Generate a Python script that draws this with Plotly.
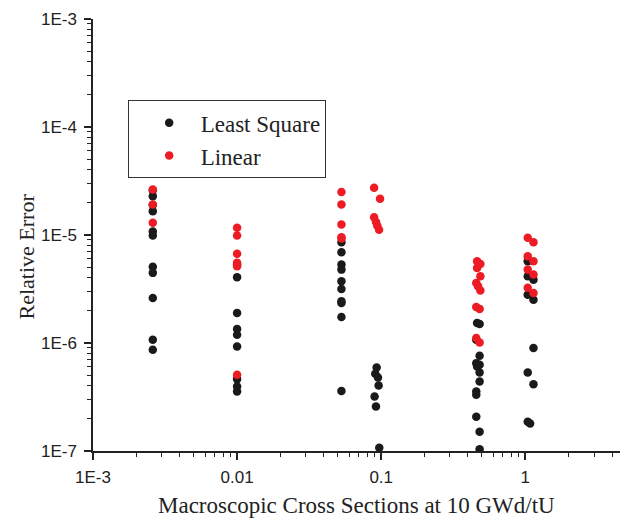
import plotly.graph_objects as go

# Least Square (black)
ls_x = [0.0026]*11 + [0.01]*9 + [0.053]*10 + [0.093, 0.091, 0.095, 0.096, 0.090, 0.092, 0.097] \
       + [0.463, 0.482, 0.457, 0.482, 0.457, 0.482, 0.463, 0.482, 0.482, 0.457, 0.457, 0.457, 0.482, 0.482] \
       + [1.04, 1.04, 1.14, 1.04, 1.14, 1.14, 1.04, 1.14, 1.04, 1.08]
ls_y = [2.29e-5, 1.66e-5, 1.08e-5, 9.9e-6, 5.07e-6, 4.46e-6, 2.61e-6, 1.07e-6, 8.66e-7, 2.6e-5, 1.9e-5,
        5.32e-6, 4.06e-6, 1.90e-6, 1.35e-6, 1.19e-6, 9.3e-7, 4.63e-7, 3.95e-7, 3.55e-7,
        8.57e-6, 6.92e-6, 5.32e-6, 4.78e-6, 3.73e-6, 3.17e-6, 2.43e-6, 2.35e-6, 1.74e-6, 3.60e-7,
        5.93e-7, 5.18e-7, 4.79e-7, 4.04e-7, 3.19e-7, 2.58e-7, 1.07e-7,
        1.53e-6, 1.50e-6, 1.07e-6, 7.62e-7, 6.51e-7, 6.28e-7, 6.06e-7, 5.33e-7, 4.40e-7, 3.55e-7, 3.31e-7, 2.08e-7, 1.51e-7, 1.04e-7,
        5.71e-6, 4.15e-6, 3.86e-6, 2.80e-6, 2.52e-6, 8.98e-7, 5.33e-7, 4.16e-7, 1.87e-7, 1.80e-7]

# Linear (red)
lin_x = [0.0026]*3 + [0.01]*6 + [0.053]*5 + [0.0893, 0.0982, 0.0893, 0.0921, 0.094, 0.0967] \
        + [0.463, 0.488, 0.463, 0.488, 0.457, 0.470, 0.488, 0.457, 0.482, 0.457, 0.482] \
        + [1.04, 1.14, 1.04, 1.14, 1.04, 1.14, 1.04, 1.14]
lin_y = [2.64e-5, 1.92e-5, 1.30e-5,
         1.17e-5, 9.9e-6, 6.69e-6, 5.52e-6, 5.14e-6, 5.08e-7,
         2.50e-5, 1.92e-5, 1.25e-5, 9.55e-6, 9.29e-6,
         2.74e-5, 2.17e-5, 1.46e-5, 1.32e-5, 1.22e-5, 1.12e-5,
         5.71e-6, 5.40e-6, 4.96e-6, 4.15e-6, 3.60e-6, 3.35e-6, 3.07e-6, 2.15e-6, 2.07e-6, 1.11e-6, 1.01e-6,
         9.42e-6, 8.57e-6, 6.36e-6, 5.71e-6, 4.78e-6, 4.30e-6, 3.24e-6, 2.91e-6]

x_ticks = [0.001, 0.01, 0.1, 1]
x_tick_text = ["1E-3", "0.01", "0.1", "1"]
y_ticks = [1e-7, 1e-6, 1e-5, 1e-4, 1e-3]
y_tick_text = ["1E-7", "1E-6", "1E-5", "1E-4", "1E-3"]

NB = "\u00a0"
fig = go.Figure()
fig.add_trace(go.Scatter(x=ls_x, y=ls_y, mode="markers", name=NB*2 + "Least Square",
                         marker=dict(color="#1a1a1a", size=8.5, line=dict(width=0))))
fig.add_trace(go.Scatter(x=lin_x, y=lin_y, mode="markers", name=NB*2 + "Linear",
                         marker=dict(color="#ED1C24", size=8.5, line=dict(width=0))))

x_minor = [m * 10**e for e in range(-3, 1) for m in range(2, 10)]
y_minor = [m * 10**e for e in range(-7, -3) for m in range(2, 10)]

# The page body has an 8px default margin; size the figure to compensate.
fig.update_layout(
    width=620, height=511,
    margin=dict(l=85, r=2, t=11, b=68),
    paper_bgcolor="white", plot_bgcolor="white",
    showlegend=True,
    legend=dict(x=0.066, y=0.812, xanchor="left", yanchor="top",
                bordercolor="#333", borderwidth=1, bgcolor="white",
                font=dict(family="Liberation Serif", size=23, color="#222"),
                indentation=20, tracegroupgap=0),
    xaxis=dict(type="log", range=[-3, 0.699], tickmode="array", tickvals=x_ticks, ticktext=x_tick_text,
               showgrid=False, zeroline=False, showline=True, linecolor="#222", linewidth=1.5,
               ticks="outside", ticklen=7, tickwidth=1.5, tickcolor="#222", ticklabelstandoff=3,
               minor=dict(tickmode="array", tickvals=x_minor, ticks="outside", ticklen=4, tickwidth=1.2, tickcolor="#222"),
               tickfont=dict(family="Liberation Sans", size=17, color="#222")),
    yaxis=dict(type="log", range=[-7, -3], tickmode="array", tickvals=y_ticks, ticktext=y_tick_text,
               showgrid=False, zeroline=False, showline=True, linecolor="#222", linewidth=1.5,
               ticks="outside", ticklen=7, tickwidth=1.5, tickcolor="#222", ticklabelstandoff=4,
               minor=dict(tickmode="array", tickvals=y_minor, ticks="outside", ticklen=4, tickwidth=1.2, tickcolor="#222"),
               tickfont=dict(family="Liberation Sans", size=17, color="#222")),
    annotations=[
        dict(text="Relative Error", xref="paper", yref="paper", x=-0.124, y=0.45,
             xanchor="center", yanchor="middle", textangle=-90, showarrow=False,
             font=dict(family="Liberation Serif", size=22, color="#222")),
        dict(text="Macroscopic Cross Sections at 10 GWd/tU", xref="paper", yref="paper", x=0.495, y=-0.125,
             xanchor="center", yanchor="middle", showarrow=False,
             font=dict(family="Liberation Serif", size=23, color="#222")),
    ],
)

fig.write_html("out.html")
